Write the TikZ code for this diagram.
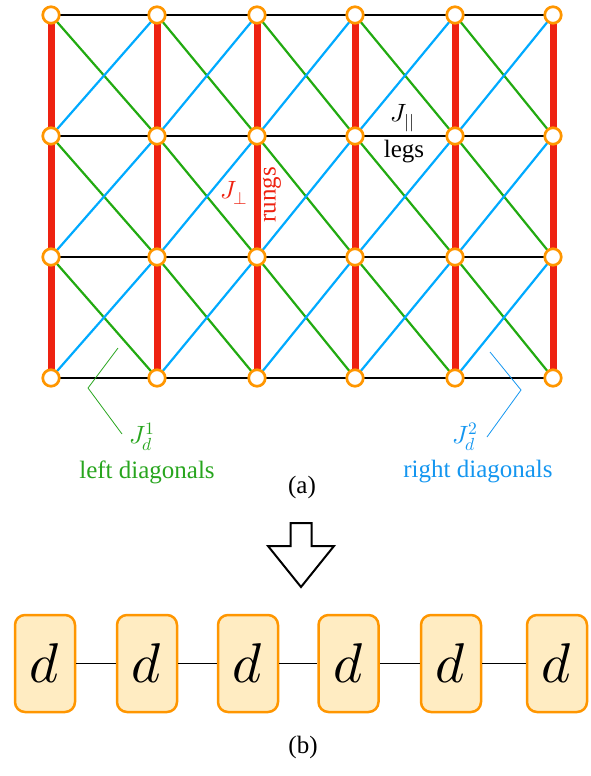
\documentclass[tikz,border=0pt]{standalone}
\usepackage{fontspec}
\usepackage{unicode-math}
\setmainfont{Liberation Serif}
\setmathfont{Latin Modern Math}
\pgfdeclarelayer{bg}
\pgfsetlayers{bg,main}
\definecolor{rungred}{RGB}{238,34,17}
\definecolor{siteorange}{RGB}{255,150,0}
\definecolor{diaggreen}{RGB}{34,170,17}
\definecolor{diagblue}{RGB}{0,170,255}
\definecolor{labgreen}{RGB}{40,165,30}
\definecolor{labblue}{RGB}{20,150,240}
\definecolor{boxfill}{RGB}{255,236,194}
\begin{document}
\begin{tikzpicture}[x=1pt,y=-1pt,
  site/.style={circle,draw=siteorange,fill=white,line width=2.7pt,minimum size=16.5pt,inner sep=0pt},
  leg/.style={black,line width=2.7pt},
  rung/.style={rungred,line width=7pt},
  gdiag/.style={diaggreen,line width=2.2pt},
  bdiag/.style={diagblue,line width=2.2pt},
  lab/.style={font=\fontsize{25}{29}\selectfont,inner sep=0pt},
  dbox/.style={draw=siteorange,fill=boxfill,line width=2.5pt,rounded corners=10pt,minimum width=60pt,minimum height=97pt,inner sep=0pt,font=\fontsize{56}{56}\selectfont},
  callout/.style={line width=0.8pt}]
\useasboundingbox (0,0) rectangle (591,776);
% sites
\foreach \c/\x in {1/51,2/157,3/257,4/355,5/455,6/553}
  \foreach \r/\y in {1/15,2/136,3/257,4/378}
    \node[site] (v\r\c) at (\x,\y) {};
\begin{pgfonlayer}{bg}
% legs
\foreach \r in {1,...,4}
  \foreach \c [count=\n from 2] in {1,...,5}
    \draw[leg] (v\r\c.center) -- (v\r\n.center);
% diagonals
\foreach \r [count=\s from 2] in {1,...,3}
  \foreach \c [count=\n from 2] in {1,...,5}{
    \draw[gdiag] (v\r\c.center) -- (v\s\n.center);
    \draw[bdiag] (v\s\c.center) -- (v\r\n.center);
  }
% rungs
\foreach \r [count=\s from 2] in {1,...,3}
  \foreach \c in {1,...,6}
    \draw[rung] (v\r\c.center) -- (v\s\c.center);
\end{pgfonlayer}
% labels
\node[lab] (jpar) at (403,118) {$J_{||}$};
\node[lab] (legs) at (404,152) {legs};
\node[lab,text=rungred] (jperp) at (234,193) {$J_\perp$};
\node[lab,text=rungred,rotate=90] (rungs) at (272,195) {rungs};
\node[lab,text=labgreen] (jd1) at (142,437) {$J_d^1$};
\node[lab,text=labgreen] (left) at (147,472) {left diagonals};
\node[lab,text=labblue] (jd2) at (465,437) {$J_d^2$};
\node[lab,text=labblue] (right) at (478,472) {right diagonals};
\node[lab] (capa) at (302,487) {(a)};
\node[lab] (capb) at (303,747) {(b)};
% callouts
\coordinate (g1) at (118,348);
\coordinate (g2) at (88,388);
\coordinate (g3) at (122,434);
\draw[callout,labgreen] (g1) -- (g2) -- (g3);
\coordinate (b1c) at (490,352);
\coordinate (b2c) at (521,390);
\coordinate (b3c) at (487,437);
\draw[callout,labblue] (b1c) -- (b2c) -- (b3c);
% hollow arrow
\draw[line width=2pt,fill=white,line join=miter]
  (290.5,523) -- (311.5,523) -- (311.5,546) -- (334,546) -- (301,587) -- (268,546) -- (290.5,546) -- cycle;
% chain of d boxes
\foreach \i/\x in {1/45,2/147,3/248,4/348.5,5/451,6/557}
  \node[dbox] (d\i) at (\x,663.5) {$d$};
\foreach \i [count=\j from 2] in {1,...,5}
  \draw[line width=1.5pt] (d\i.east) -- (d\j.west);
\end{tikzpicture}
\end{document}
